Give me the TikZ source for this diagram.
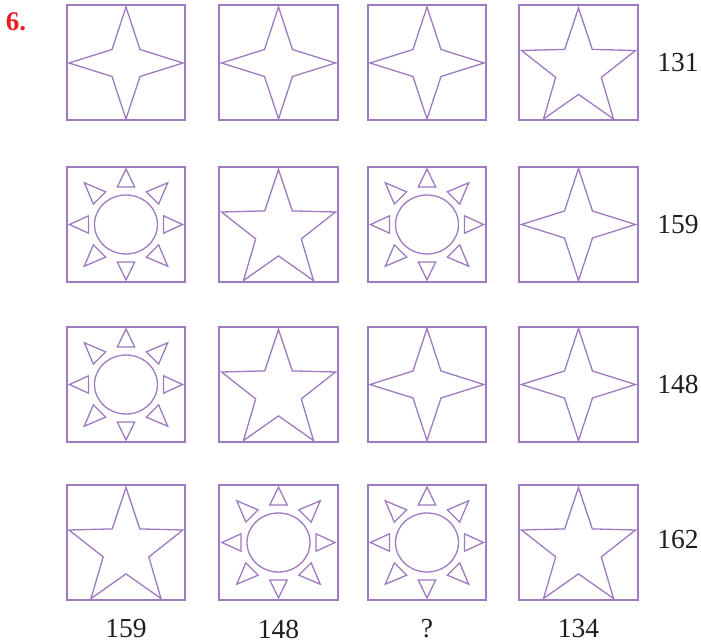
\documentclass[tikz,border=0pt]{standalone}
\usepackage{fontspec}
\setmainfont{Liberation Serif}
\usepackage{xcolor}
\definecolor{lila}{RGB}{158,122,192}
\definecolor{qred}{RGB}{237,28,36}
\definecolor{ink}{RGB}{30,30,30}
\begin{document}
\begin{tikzpicture}[x=1pt,y=-1pt,
  cell/.style={draw=lila,line width=2pt,minimum width=118.5pt,minimum height=115pt,inner sep=0pt},
  shp/.style={draw=lila,line width=1.3pt,miter limit=10},
  num/.style={inner sep=0pt,text=ink,font=\fontsize{27.5}{30}\selectfont},
  fourstar/.pic={\draw[shp] (0,-56) -- (14,-13.5) -- (57,0) -- (14,13.5) -- (0,56) -- (-14,13.5) -- (-57,0) -- (-14,-13.5) -- cycle;},
  fivestar/.pic={\draw[shp] (0,-55) -- (13.8,-13.6) -- (57,-12.5) -- (22.8,14.4) -- (35,56) -- (0,31.4) -- (-35,56) -- (-22.8,14.4) -- (-57,-12.5) -- (-13.8,-13.6) -- cycle;},
  sunshape/.pic={\draw[shp] (0,0) ellipse [x radius=31.5, y radius=29.5];
    \foreach \t/\r in {0/56.5,90/55.5,180/56.5,270/55.5,45/59,135/59,225/59,315/59}
      \draw[shp,rotate=\t] (\r,0) -- (37.5,8.7) -- (37.5,-8.7) -- cycle;}
]
\useasboundingbox (0,0) rectangle (701,644);
\node[inner sep=0pt,text=qred,font=\bfseries\fontsize{27}{30}\selectfont] (qnum) at (16,21.5) {6.};
% cells
\foreach \r/\y in {1/63,2/224.5,3/384.5,4/542.5}{
  \foreach \c/\x in {1/126,2/278.5,3/427,4/578.5}{
    \node[cell] (c\r\c) at (\x,\y) {};
  }
}
% row 1
\pic at (c11) {fourstar};
\pic at (c12) {fourstar};
\pic at (c13) {fourstar};
\pic at (c14) {fivestar};
% row 2
\pic at (c21) {sunshape};
\pic at (c22) {fivestar};
\pic at (c23) {sunshape};
\pic at (c24) {fourstar};
% row 3
\pic at (c31) {sunshape};
\pic at (c32) {fivestar};
\pic at (c33) {fourstar};
\pic at (c34) {fourstar};
% row 4
\pic at (c41) {fivestar};
\pic at (c42) {sunshape};
\pic at (c43) {sunshape};
\pic at (c44) {fivestar};
% right labels
\node[num] (r1) at (678,63) {131};
\node[num] (r2) at (678,224.5) {159};
\node[num] (r3) at (678,384.5) {148};
\node[num] (r4) at (678,540) {162};
% bottom labels
\node[num] (b1) at (126,629) {159};
\node[num] (b2) at (278.5,629) {148};
\node[num] (b3) at (427,629) {?};
\node[num] (b4) at (578.5,629) {134};
\end{tikzpicture}
\end{document}
